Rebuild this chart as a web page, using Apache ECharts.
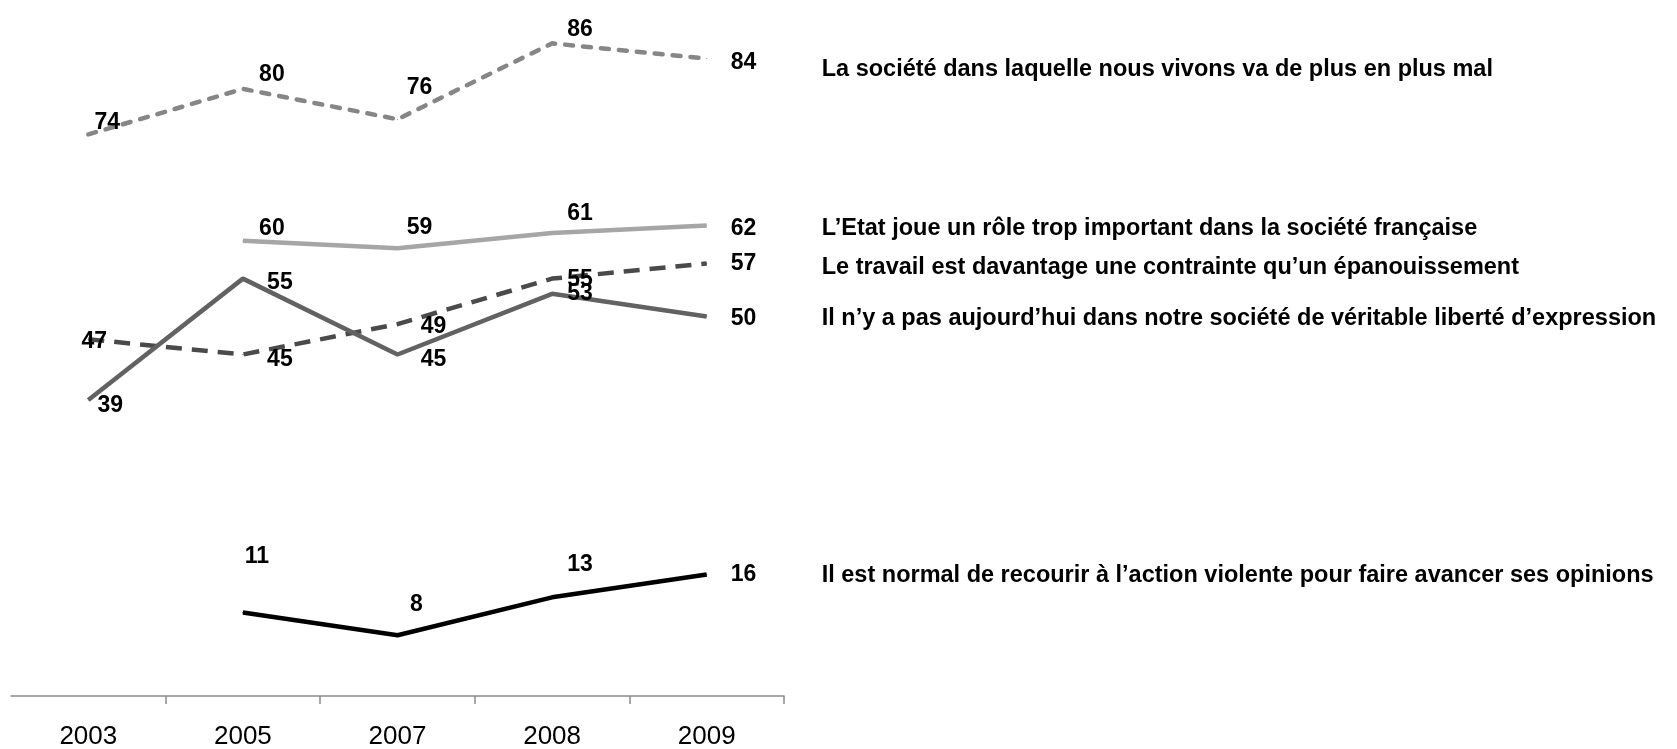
<!DOCTYPE html>
<html><head><meta charset="utf-8">
<script src="https://cdn.jsdelivr.net/npm/echarts@6/dist/echarts.min.js"></script>
<style>html,body{margin:0;padding:0;background:#fff}#c{width:1677px;height:749px}</style>
</head><body><div id="c"></div>
<script>
const categories = ['2003','2005','2007','2008','2009'];
const names = [
  'La société dans laquelle nous vivons va de plus en plus mal',
  'L’Etat joue un rôle trop important dans la société française',
  'Le travail est davantage une contrainte qu’un épanouissement',
  'Il n’y a pas aujourd’hui dans notre société de véritable liberté d’expression',
  'Il est normal de recourir à l’action violente pour faire avancer ses opinions'
];
const societeMal   = [74, 80, 76, 86, 84];
const etatRole     = [null, 60, 59, 61, 62];
const travail      = [47, 45, 49, 55, 57];
const liberte      = [39, 55, 45, 53, 50];
const violence     = [null, 11, 8, 13, 16];

// label offsets (layout only)
const labelOffsets = [
  [[19,-12],[29,-14],[22,-32],[28,-14]],
  [null,[29,-12],[22,-21],[28,-19]],
  [[6,2],[37,5],[36,3],[28,1]],
  [[22,6],[37,4],[36,5],[28,0]],
  [null,[14,-56],[19,-31],[28,-33]]
];
const endValueShift = [4, 3, 0, 2, 0];
const nameShift = [11, 3, 4, 2, 1];
const styles = [
  {color:'#868686', type:[8,10], cap:'round'},
  {color:'#a6a6a6', type:'solid', cap:'butt'},
  {color:'#4a4a4a', type:[16,10], cap:'butt'},
  {color:'#626262', type:'solid', cap:'butt'},
  {color:'#000000', type:'solid', cap:'butt'}
];
const allValues = [societeMal, etatRole, travail, liberte, violence];
const labelFont = '"Liberation Sans", Arial, sans-serif';

const series = allValues.map((vals, s) => {
  const last = vals.length - 1;
  return {
    name: names[s],
    type: 'line',
    symbol: 'circle',
    symbolSize: 1,
    connectNulls: false,
    lineStyle: {color: styles[s].color, width: 4.5, type: styles[s].type, cap: styles[s].cap},
    itemStyle: {color: styles[s].color},
    data: vals.map((v, i) => {
      const off = labelOffsets[s][i];
      if (v === null) return null;
      if (i === last || !off) return {value: v, label: {show: false}};
      return {value: v, label: {show: true, position: 'inside', offset: off}};
    }),
    label: {fontFamily: labelFont, fontWeight: 'bold', fontSize: 23, color: '#000', formatter: '{c}'},
    endLabel: {
      show: true,
      distance: 24,
      offset: [0, endValueShift[s]],
      fontFamily: labelFont, fontWeight: 'bold', fontSize: 23, color: '#000',
      formatter: (p) => String(p.value)
    },
    markPoint: {
      symbol: 'circle',
      symbolSize: 0,
      silent: true,
      animation: false,
      data: [{
        coord: [categories[last], vals[last]],
        label: {
          show: true,
          position: [115, nameShift[s]],
          align: 'left',
          verticalAlign: 'middle',
          formatter: names[s],
          fontFamily: labelFont, fontWeight: 'bold', fontSize: 23.5, color: '#000'
        }
      }]
    },
    emphasis: {disabled: true},
    animation: false
  };
});

const chart = echarts.init(document.getElementById('c'));
chart.setOption({
  animation: false,
  grid: {left: 11, right: 893, top: 13, bottom: 53, containLabel: false, outerBoundsMode: 'none'},
  xAxis: {
    type: 'category',
    data: categories,
    boundaryGap: true,
    axisLine: {lineStyle: {color: '#8a8a8a', width: 1.5}},
    axisTick: {show: true, length: 8, interval: (i) => i !== 0, lineStyle: {color: '#8a8a8a', width: 1.5}},
    axisLabel: {fontFamily: labelFont, fontSize: 26, color: '#000', margin: 28}
  },
  yAxis: {type: 'value', min: 0, max: 90, show: false, splitLine: {show: false}},
  series: series
});
</script>
</body></html>
